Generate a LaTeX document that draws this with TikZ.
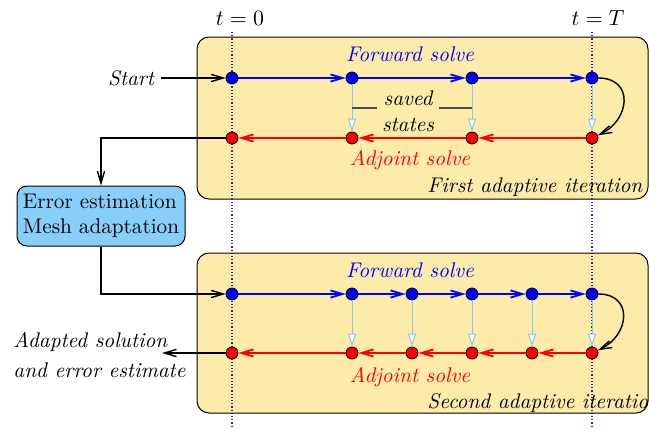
\documentclass[tikz,border=0pt]{standalone}
\usepackage{amsmath,amssymb}
\usepackage{fontspec}
\usepackage{tikz}
\usetikzlibrary{arrows.meta,positioning,calc}
\definecolor{stagecolor}{RGB}{253,235,170}
\definecolor{adaptcolor}{RGB}{135,206,250}
\definecolor{savecolor}{RGB}{135,200,240}
\definecolor{timecolor}{RGB}{40,40,170}
\tikzset{
  barb/.tip={Straight Barb[length=6pt,width=3.6pt]},
  stagebox/.style={draw=black, fill=stagecolor, rounded corners=6pt, line width=0.5pt},
  timeln/.style={timecolor, densely dotted, line width=0.6pt},
  fwdpt/.style={circle, draw=black, fill=blue, line width=0.4pt, minimum size=6pt, inner sep=0pt},
  adjpt/.style={circle, draw=black, fill=red, line width=0.4pt, minimum size=6pt, inner sep=0pt},
  fwdln/.style={-barb, blue, line width=0.9pt},
  adjln/.style={-barb, red, line width=0.9pt},
  saveln/.style={-{Triangle[length=6.5pt,width=4pt,fill=white]}, savecolor, line width=0.5pt},
  flowln/.style={-barb, black, line width=0.7pt},
  pinln/.style={gray!60!black, line width=0.6pt},
  adaptbox/.style={draw=black, fill=adaptcolor, rounded corners=5pt, line width=0.5pt,
    align=left, minimum width=84pt, minimum height=30pt, inner sep=2pt},
}

\begin{document}
\fontsize{10.6}{12.8}\selectfont
\begin{tikzpicture}[x=0.5pt, y=-0.5pt]
    \useasboundingbox (0,0) rectangle (649,429);
    % the two stages
    \draw[stagebox] (197,37) rectangle (648,199);
    \draw[stagebox] (197,253) rectangle (648,413);
    \draw[timeln] (232,32) -- (232,429);
    \draw[timeln] (592,32) -- (592,429);
    \node (tzero) at (240,18) {$t=0$};
    \node (tend) at (598,18) {$t=T$};

    % first iteration
    \node[fwdpt] (f1) at (232,78) {};
    \node[fwdpt] (f2) at (352,78) {};
    \node[fwdpt] (f3) at (472,78) {};
    \node[fwdpt] (f4) at (592,78) {};
    \node[adjpt] (a1) at (232,138) {};
    \node[adjpt] (a2) at (352,138) {};
    \node[adjpt] (a3) at (472,138) {};
    \node[adjpt] (a4) at (592,138) {};
    \draw[fwdln] (f1) -- (f2);
    \draw[fwdln] (f2) -- (f3);
    \draw[fwdln] (f3) -- (f4);
    \draw[adjln] (a4) -- (a3);
    \draw[adjln] (a3) -- (a2);
    \draw[adjln] (a2) -- (a1);
    \draw[saveln] (f2) -- (a2);
    \draw[saveln] (f3) -- (a3);
    \draw[saveln] (f4) -- (a4);
    \draw[flowln] (f4) to[out=0, in=25, looseness=1.6] (a4);
    \node[blue, font=\itshape] (fwdone) at (410,54) {Forward solve};
    \node[red, font=\itshape] (adjone) at (410,160) {Adjoint solve};
    \node[font=\itshape, align=center, inner sep=1pt] (saved) at (408,111) {saved\\states};
    \draw[pinln] ($(saved.west)+(-3,-3)$) -- ($(saved.west -| f2)+(0,-3)$);
    \draw[pinln] ($(saved.east)+(3,-3)$) -- ($(saved.east -| f3)+(0,-3)$);
    \node[font=\itshape, anchor=west] (iterone) at (420,187) {First adaptive iteration};
    \node[font=\itshape] (start) at (131,78) {Start};
    \draw[flowln] (start) -- (f1);

    % adaptation step
    \node[adaptbox] (adapt) at (101,216) {Error estimation\\Mesh adaptation};
    \draw[flowln] (a1) -| (adapt.north);

    % second iteration
    \node[fwdpt] (g1) at (232,294) {};
    \node[fwdpt] (g2) at (352,294) {};
    \node[fwdpt] (g3) at (412,294) {};
    \node[fwdpt] (g4) at (472,294) {};
    \node[fwdpt] (g5) at (532,294) {};
    \node[fwdpt] (g6) at (592,294) {};
    \node[adjpt] (b1) at (232,353) {};
    \node[adjpt] (b2) at (352,353) {};
    \node[adjpt] (b3) at (412,353) {};
    \node[adjpt] (b4) at (472,353) {};
    \node[adjpt] (b5) at (532,353) {};
    \node[adjpt] (b6) at (592,353) {};
    \draw[flowln] (adapt.south) |- (g1);
    \draw[fwdln] (g1) -- (g2);
    \draw[fwdln] (g2) -- (g3);
    \draw[fwdln] (g3) -- (g4);
    \draw[fwdln] (g4) -- (g5);
    \draw[fwdln] (g5) -- (g6);
    \draw[adjln] (b6) -- (b5);
    \draw[adjln] (b5) -- (b4);
    \draw[adjln] (b4) -- (b3);
    \draw[adjln] (b3) -- (b2);
    \draw[adjln] (b2) -- (b1);
    \draw[saveln] (g2) -- (b2);
    \draw[saveln] (g3) -- (b3);
    \draw[saveln] (g4) -- (b4);
    \draw[saveln] (g5) -- (b5);
    \draw[saveln] (g6) -- (b6);
    \draw[flowln] (g6) to[out=0, in=25, looseness=1.6] (b6);
    \node[blue, font=\itshape] (fwdtwo) at (410,270) {Forward solve};
    \node[red, font=\itshape] (adjtwo) at (410,377) {Adjoint solve};
    \node[font=\itshape, anchor=west] (itertwo) at (420,403) {Second adaptive iteration};

    % output
    \coordinate (outtip) at (162,353);
    \draw[flowln] (b1) -- (outtip);
    \node[font=\itshape, align=left, anchor=west] (result) at (6,355)
      {Adapted solution\\[2.5pt] and error estimate};
  \end{tikzpicture}
\end{document}
